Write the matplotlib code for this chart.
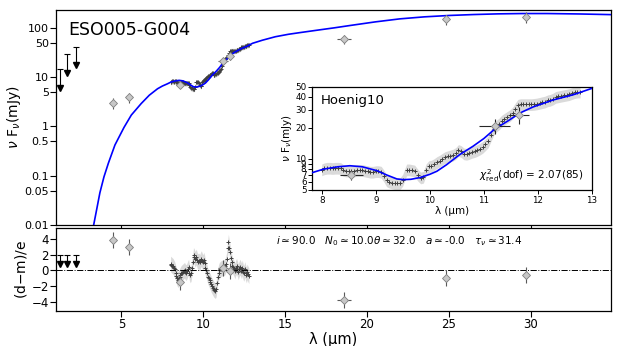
import matplotlib
matplotlib.use("Agg")
import matplotlib.pyplot as plt
import numpy as np

# ---------------- data ----------------
model_wave = [3.0, 3.3, 3.5, 3.68, 3.93, 4.2, 4.6, 5.15, 5.6, 6.2,
              6.7, 7.2, 7.5, 7.8, 8.03, 8.3, 8.52, 8.75, 9.02, 9.2,
              9.39, 9.51, 9.65, 9.82, 10.0, 10.13, 10.31, 10.55, 10.8, 11.0,
              11.2, 11.45, 11.67, 11.91, 12.28, 12.65, 13.0, 13.6, 14.4, 15.2,
              15.9, 17.0, 18.0, 19.0, 20.5, 22.0, 23.5, 25.0, 26.5, 28.0,
              29.5, 31.0, 33.0, 35.0]
model_flux = [0.0035, 0.01, 0.022, 0.045, 0.095, 0.18, 0.42, 0.95, 1.7, 2.9,
              4.3, 5.8, 6.6, 7.3, 7.96, 8.4, 8.6, 8.4, 7.7, 7.0,
              6.4, 6.3, 6.35, 6.6, 7.1, 7.6, 8.8, 11.0, 13.3, 15.8,
              19.5, 23.5, 28.0, 32.0, 37.4, 42.0, 48.5, 56.0, 66.0, 74.0,
              80.0, 90.0, 100.0, 112.0, 132.0, 152.0, 167.0, 178.0, 186.0, 192.0,
              195.0, 195.0, 191.0, 185.0]

spec_wave = [8.00, 8.05, 8.10, 8.15, 8.20, 8.25, 8.30, 8.35, 8.40, 8.45,
             8.50, 8.55, 8.60, 8.65, 8.70, 8.75, 8.80, 8.85, 8.90, 8.95,
             9.00, 9.05, 9.10, 9.15, 9.20, 9.25, 9.30, 9.35, 9.40, 9.45,
             9.50, 9.57, 9.62, 9.67, 9.72, 9.78, 9.83, 9.88, 9.93, 9.98,
             10.03, 10.08, 10.13, 10.18, 10.23, 10.28, 10.33, 10.38, 10.43, 10.48,
             10.53, 10.58, 10.63, 10.68, 10.73, 10.78, 10.83, 10.88, 10.93, 10.98,
             11.03, 11.08, 11.13, 11.18, 11.23, 11.28, 11.33, 11.38, 11.43, 11.48,
             11.53, 11.58, 11.63, 11.68, 11.73, 11.78, 11.83, 11.88, 11.93, 11.98,
             12.03, 12.08, 12.13, 12.18, 12.23, 12.28, 12.33, 12.38, 12.43, 12.48,
             12.53, 12.58, 12.63, 12.68, 12.73, 12.78]
spec_flux = [7.9, 8.1, 8.2, 8.2, 8.15, 8.2, 8.2, 8.15, 7.8, 7.7,
             7.7, 7.6, 7.7, 7.8, 7.8, 7.8, 7.7, 7.6, 7.5, 7.5,
             7.6, 7.6, 7.5, 6.9, 6.2, 6.0, 5.9, 5.8, 5.8, 5.8,
             6.3, 7.9, 7.9, 7.8, 7.7, 7.0, 6.6, 6.7, 7.9, 8.5,
             8.6, 8.9, 9.3, 9.6, 10.0, 10.4, 10.6, 10.8, 11.0, 11.4,
             12.2, 11.9, 11.3, 11.2, 11.4, 11.7, 11.9, 12.2, 12.6, 13.1,
             13.9, 14.8, 17.0, 19.5, 21.0, 22.0, 23.5, 24.5, 25.5, 26.5,
             28.0, 30.8, 33.5, 34.0, 34.0, 34.0, 34.0, 34.0, 34.2, 34.5,
             35.0, 35.5, 36.0, 37.0, 37.5, 38.5, 40.0, 40.5, 41.0, 41.5,
             42.0, 42.5, 43.5, 44.5, 45.0, 45.0]
spec_resid = [0.8, 0.7, 0.6, 0.5, 0.3, 0.1, -0.3, -0.7, -1.0, -1.2,
              -1.0, -0.8, -0.6, -0.4, -0.3, -0.2, -0.1, 0.0, -0.2, -0.3,
              -0.1, 0.2, 0.4, -0.3, -0.6, -0.4, 0.3, 1.0, 1.9, 1.7,
              1.4, 1.7, 1.3, 1.1, 1.2, 1.0, 1.3, 1.5, 1.2, 1.0,
              1.3, 0.9, 0.3, 0.0, -0.4, -0.8, -1.0, -1.3, -1.5, -1.8,
              -2.0, -2.2, -2.4, -2.5, -2.6, -2.4, -1.6, -0.8, -0.3, 0.0,
              0.1, 0.2, 0.3, 0.2, 0.4, 0.3, 0.5, 0.8, 1.4, 2.8,
              3.6, 2.9, 2.3, 1.6, 1.1, 0.6, 0.4, 0.2, -0.1, 0.3,
              0.5, 0.2, -0.2, 0.1, 0.4, 0.2, -0.1, 0.3, -0.2, -0.4,
              0.1, -0.3, -0.6, -0.2, -0.5, -0.7]
spec_frac_err = 0.13

phot_wave = [4.49, 5.47, 8.55, 11.2, 11.65, 18.6, 24.8, 29.7]
phot_flux = [3.0, 3.9, 7.0, 21.0, 27.0, 60.0, 148.0, 168.0]
phot_xerr = [0.0, 0.0, 0.21, 0.29, 0.18, 0.45, 0.0, 0.0]
phot_ferr = [0.75, 0.9, 0.7, 3.5, 5.0, 12.0, 35.0, 40.0]
phot_resid = [3.9, 2.95, -1.55, 0.25, -0.05, -3.77, -1.0, -0.6]
phot_resid_err = [1.0, 1.0, 1.0, 1.0, 1.0, 1.0, 1.0, 1.0]

ul_wave = [1.25, 1.65, 2.2]
ul_flux = [5.9, 11.9, 17.3]
ul_top = [14.8, 28.8, 41.4]
ul_resid = [0.85, 0.85, 0.85]
ul_resid_top = [2.0, 2.0, 2.0]

main_yticks = [0.01, 0.05, 0.1, 0.5, 1, 5, 10, 50, 100]
main_yticklabels = ['0.01', '0.05', '0.1', '0.5', '1', '5', '10', '50', '100']
inset_yticks = [5, 6, 7, 8, 9, 10, 20, 30, 40, 50]
res_yticks = [-4, -2, 0, 2, 4]
res_xticks = [5, 10, 15, 20, 25, 30]
inset_xticks = [8, 9, 10, 11, 12, 13]

# ---------------- figure ----------------
fig = plt.figure(figsize=(6.23, 3.46), dpi=100)
ax = fig.add_axes([0.0899, 0.3497, 0.8908, 0.6214])
axr = fig.add_axes([0.0899, 0.1012, 0.8908, 0.2398])
axi = fig.add_axes([0.5008, 0.4509, 0.4494, 0.2977])

sw = np.array(spec_wave)
sf = np.array(spec_flux)
sr = np.array(spec_resid)

band_col = '0.82'
mark_col = '0.25'
diam_face = '0.78'
diam_edge = '0.5'
err_col = '0.35'

def draw_sed(a, msize, lw_model):
    a.fill_between(sw, sf * (1 - spec_frac_err), sf * (1 + spec_frac_err),
                   color=band_col, lw=0, alpha=0.8, zorder=1)
    a.plot(sw, sf, ls='none', marker='+', ms=msize, mew=0.7, color=mark_col, zorder=2)
    a.plot(model_wave, model_flux, color='#0000ff', lw=lw_model, zorder=3)

# main panel
draw_sed(ax, 3, 1.2)
ax.errorbar(phot_wave, phot_flux, xerr=phot_xerr, yerr=phot_ferr, fmt='D', ms=4.2,
            mfc=diam_face, mec=diam_edge, mew=0.6, ecolor=err_col, elinewidth=0.8,
            capsize=0, zorder=5)
ax.vlines(ul_wave, ul_flux, ul_top, color='k', lw=0.8, zorder=5)
ax.plot(ul_wave, ul_top, ls='none', marker='_', ms=4, mew=0.8, color='k', zorder=5)
ax.plot(ul_wave, ul_flux, ls='none', marker='v', ms=4.5, color='k', zorder=5)
ax.set_yscale('log')
ax.set_xlim(1.0, 34.9)
ax.set_ylim(0.01, 230)
ax.set_yticks(main_yticks)
ax.set_yticklabels(main_yticklabels)
ax.minorticks_off()
ax.set_xticks(res_xticks)
ax.tick_params(axis='x', labelbottom=False, length=4, width=0.8, direction='out')
ax.tick_params(axis='y', labelsize=8, length=4, width=0.8, pad=1)
ax.set_ylabel(r'$\nu$ F$_\nu$(mJy)', fontsize=10, labelpad=1)
ax.text(0.022, 0.95, 'ESO005-G004', transform=ax.transAxes, fontsize=12.5,
        ha='left', va='top')

# inset
draw_sed(axi, 3, 1.2)
axi.errorbar(phot_wave, phot_flux, xerr=phot_xerr, yerr=phot_ferr, fmt='D', ms=4.2,
             mfc=diam_face, mec=diam_edge, mew=0.6, ecolor='0.15', elinewidth=0.8,
             capsize=0, zorder=5)
axi.set_yscale('log')
axi.set_xlim(7.82, 13.0)
axi.set_ylim(5, 50)
axi.set_yticks(inset_yticks)
axi.set_yticklabels([str(v) for v in inset_yticks])
axi.minorticks_off()
axi.set_xticks(inset_xticks)
axi.tick_params(labelsize=6.3, length=3, width=0.7, pad=1)
axi.set_xlabel('λ (µm)', fontsize=7.5, labelpad=1)
axi.set_ylabel(r'$\nu$ F$_\nu$(mJy)', fontsize=7.5, labelpad=1)
axi.text(0.03, 0.93, 'Hoenig10', transform=axi.transAxes, fontsize=9.5,
         ha='left', va='top')
axi.text(0.97, 0.06, r'$\chi^2_{\rm red}$(dof) = 2.07(85)', transform=axi.transAxes,
         fontsize=7.5, ha='right', va='bottom')

# residual panel
axr.fill_between(sw, sr - 1, sr + 1, color=band_col, lw=0, alpha=0.8, zorder=1)
axr.plot(sw, sr, ls='none', marker='+', ms=3, mew=0.7, color=mark_col, zorder=2)
axr.axhline(0, color='k', ls='-.', lw=0.7, zorder=3)
axr.errorbar(phot_wave, phot_resid, xerr=phot_xerr, yerr=phot_resid_err, fmt='D', ms=4.2,
             mfc=diam_face, mec=diam_edge, mew=0.6, ecolor=err_col, elinewidth=0.8,
             capsize=0, zorder=5)
axr.vlines(ul_wave, ul_resid, ul_resid_top, color='k', lw=0.8, zorder=5)
axr.plot(ul_wave, ul_resid_top, ls='none', marker='_', ms=4, mew=0.8, color='k', zorder=5)
axr.plot(ul_wave, ul_resid, ls='none', marker='v', ms=4.5, color='k', zorder=5)
axr.set_xlim(1.0, 34.9)
axr.set_ylim(-5.2, 5.4)
axr.set_yticks(res_yticks)
axr.set_yticklabels(['\u22124', '\u22122', '0', '2', '4'])
axr.set_xticks(res_xticks)
axr.tick_params(labelsize=8.5, length=4, width=0.8, pad=1)
axr.set_xlabel('λ (µm)', fontsize=10.5, labelpad=1)
axr.set_ylabel(r'(d$-$m)/e', fontsize=10, labelpad=2)
axr.text(0.396, 0.93,
         r'$i\simeq$90.0   $N_0\simeq$10.0$\theta\simeq$32.0   $a\simeq$-0.0   $\tau_\nu\simeq$31.4',
         transform=axr.transAxes, fontsize=7.5, ha='left', va='top')

for a in (ax, axr, axi):
    for s in a.spines.values():
        s.set_linewidth(0.9)

fig.savefig('out.png', dpi=100)
